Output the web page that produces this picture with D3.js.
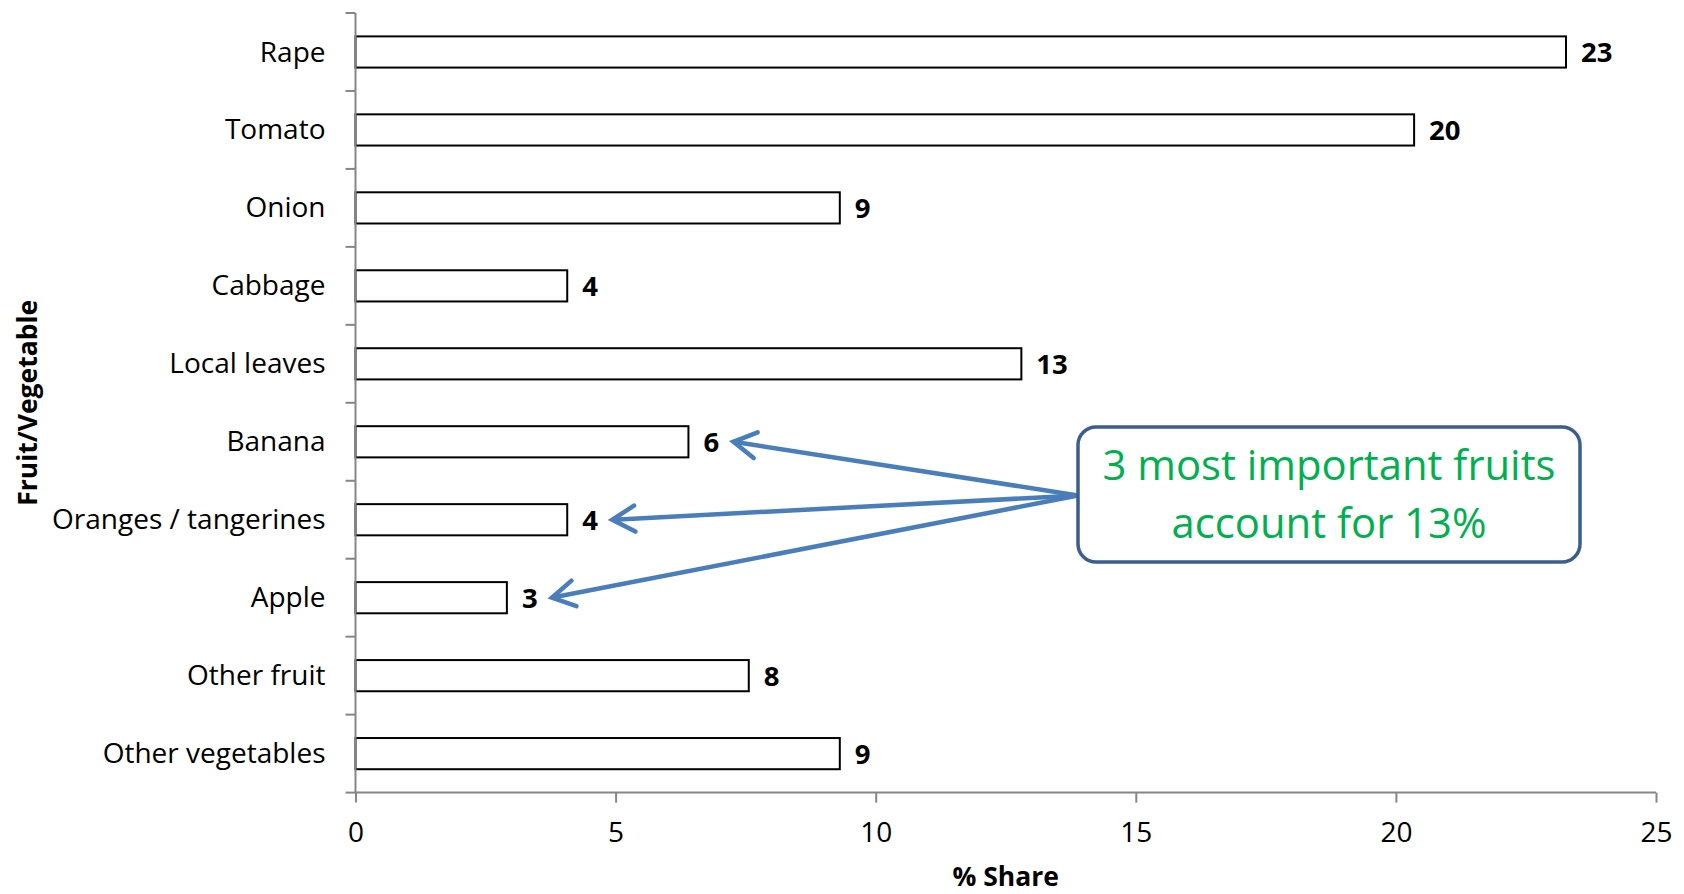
<!DOCTYPE html>
<html>
<head>
<meta charset="utf-8">
<script src="https://cdn.jsdelivr.net/npm/d3@7"></script>
<style>
  html, body { margin: 0; padding: 0; background: #ffffff; }
  svg { display: block; }
</style>
</head>
<body>
<svg id="chart" width="1684" height="894"></svg>
<script>
// Share of each fruit / vegetable (%), top to bottom
const categories = ["Rape", "Tomato", "Onion", "Cabbage", "Local leaves", "Banana",
  "Oranges / tangerines", "Apple", "Other fruit", "Other vegetables"];
const shares = [23.27, 20.35, 9.31, 4.07, 12.8, 6.4, 4.07, 2.91, 7.56, 9.31];
const xTicks = [0, 5, 10, 15, 20, 25];
const highlighted = ["Banana", "Oranges / tangerines", "Apple"];
const calloutLines = ["3 most important fruits", "account for 13%"];
const xTitle = "% Share";
const yTitle = "Fruit/Vegetable";

const FONT = "'Open Sans', Lato, sans-serif";
const LABEL_SIZE = 28;
const TITLE_SIZE = 26.5;
const svg = d3.select("#chart");

const plot = { left: 355.5, right: 1656, top: 13, bottom: 792.6 };

const x = d3.scaleLinear().domain([0, 25]).range([plot.left, plot.right]);
const y = d3.scaleBand().domain(categories).range([plot.top, plot.bottom])
  .paddingInner(0.6).paddingOuter(0.3);

const data = categories.map((c, i) => ({ cat: c, v: shares[i] }));

// Bars
svg.append("g").selectAll("rect").data(data).join("rect")
  .attr("x", x(0))
  .attr("y", d => y(d.cat))
  .attr("width", d => x(d.v) - x(0))
  .attr("height", y.bandwidth())
  .attr("fill", "#ffffff")
  .attr("stroke", "#000000")
  .attr("stroke-width", 2);

// Value labels
svg.append("g").selectAll("text").data(data).join("text")
  .attr("x", d => x(d.v) + 15)
  .attr("y", d => y(d.cat) + y.bandwidth() / 2)
  .attr("dy", "0.36em")
  .attr("font-family", FONT)
  .attr("font-size", 27.5)
  .attr("font-weight", "bold")
  .attr("fill", "#000")
  .text(d => d3.format(".0f")(d.v));

// X axis
const xAxis = svg.append("g")
  .attr("transform", `translate(0,${plot.bottom})`)
  .call(d3.axisBottom(x).tickValues(xTicks).tickSize(10).tickPadding(20).tickFormat(d3.format("d")));
xAxis.select(".domain").attr("stroke", "#868686").attr("stroke-width", 2)
  .attr("d", `M${plot.left},0H${plot.right}`);
xAxis.selectAll(".tick line").attr("stroke", "#868686").attr("stroke-width", 2);
xAxis.selectAll(".tick text").attr("font-family", FONT).attr("font-size", LABEL_SIZE).attr("fill", "#000");

// Y axis: line plus ticks on category boundaries
const yAxis = svg.append("g");
yAxis.append("line")
  .attr("x1", plot.left).attr("x2", plot.left)
  .attr("y1", plot.top).attr("y2", plot.bottom)
  .attr("stroke", "#868686").attr("stroke-width", 2);
const boundaries = d3.range(categories.length + 1).map(i => y.range()[0] + i * y.step());
yAxis.selectAll("line.tick").data(boundaries).join("line")
  .attr("class", "tick")
  .attr("x1", plot.left - 10).attr("x2", plot.left)
  .attr("y1", d => d).attr("y2", d => d)
  .attr("stroke", "#868686").attr("stroke-width", 2);
yAxis.selectAll("text").data(categories).join("text")
  .attr("x", plot.left - 30)
  .attr("y", d => y(d) + y.bandwidth() / 2)
  .attr("dy", "0.34em")
  .attr("text-anchor", "end")
  .attr("font-family", FONT)
  .attr("font-size", LABEL_SIZE)
  .attr("fill", "#000")
  .text(d => d);

// Axis titles
svg.append("text")
  .attr("x", (plot.left + plot.right) / 2)
  .attr("y", 876)
  .attr("dy", "0.36em")
  .attr("text-anchor", "middle")
  .attr("font-family", FONT).attr("font-size", TITLE_SIZE).attr("font-weight", "bold")
  .text(xTitle);
svg.append("text")
  .attr("transform", `translate(27,${(plot.top + plot.bottom) / 2}) rotate(-90)`)
  .attr("dy", "0.36em")
  .attr("text-anchor", "middle")
  .attr("font-family", FONT).attr("font-size", TITLE_SIZE).attr("font-weight", "bold")
  .text(yTitle);

// Callout box
const box = { x: 1078, y: 427, w: 502, h: 135 };
const origin = { x: box.x, y: box.y + box.h / 2 + 1 };

// Arrows from the callout to the highlighted fruits
const arrowColor = "#4A7EBB";
const arrows = svg.append("g");
highlighted.forEach(cat => {
  const v = shares[categories.indexOf(cat)];
  const tip = { x: x(v) + 45, y: y(cat) + y.bandwidth() / 2 };
  const ang = Math.atan2(origin.y - tip.y, origin.x - tip.x);
  const L = 26, spread = Math.PI / 6;
  arrows.append("line")
    .attr("x1", origin.x).attr("y1", origin.y)
    .attr("x2", tip.x + 2 * Math.cos(ang)).attr("y2", tip.y + 2 * Math.sin(ang))
    .attr("stroke", arrowColor).attr("stroke-width", 4.5);
  const p1 = [tip.x + L * Math.cos(ang + spread), tip.y + L * Math.sin(ang + spread)];
  const p2 = [tip.x + L * Math.cos(ang - spread), tip.y + L * Math.sin(ang - spread)];
  arrows.append("path")
    .attr("d", `M${p1[0]},${p1[1]}L${tip.x},${tip.y}L${p2[0]},${p2[1]}`)
    .attr("fill", "none")
    .attr("stroke", arrowColor).attr("stroke-width", 4.5)
    .attr("stroke-linecap", "round").attr("stroke-linejoin", "miter");
});

svg.append("rect")
  .attr("x", box.x).attr("y", box.y)
  .attr("width", box.w).attr("height", box.h)
  .attr("rx", 18).attr("ry", 18)
  .attr("fill", "#ffffff")
  .attr("stroke", "#3B5E8C").attr("stroke-width", 3.5);

svg.append("text")
  .attr("x", box.x + box.w / 2)
  .attr("font-family", FONT).attr("font-size", 41.8)
  .attr("fill", "#00B050")
  .attr("text-anchor", "middle")
  .selectAll("tspan").data(calloutLines).join("tspan")
  .attr("x", box.x + box.w / 2)
  .attr("y", (d, i) => 465 + i * 58)
  .attr("dy", "0.36em")
  .text(d => d);
</script>
</body>
</html>
